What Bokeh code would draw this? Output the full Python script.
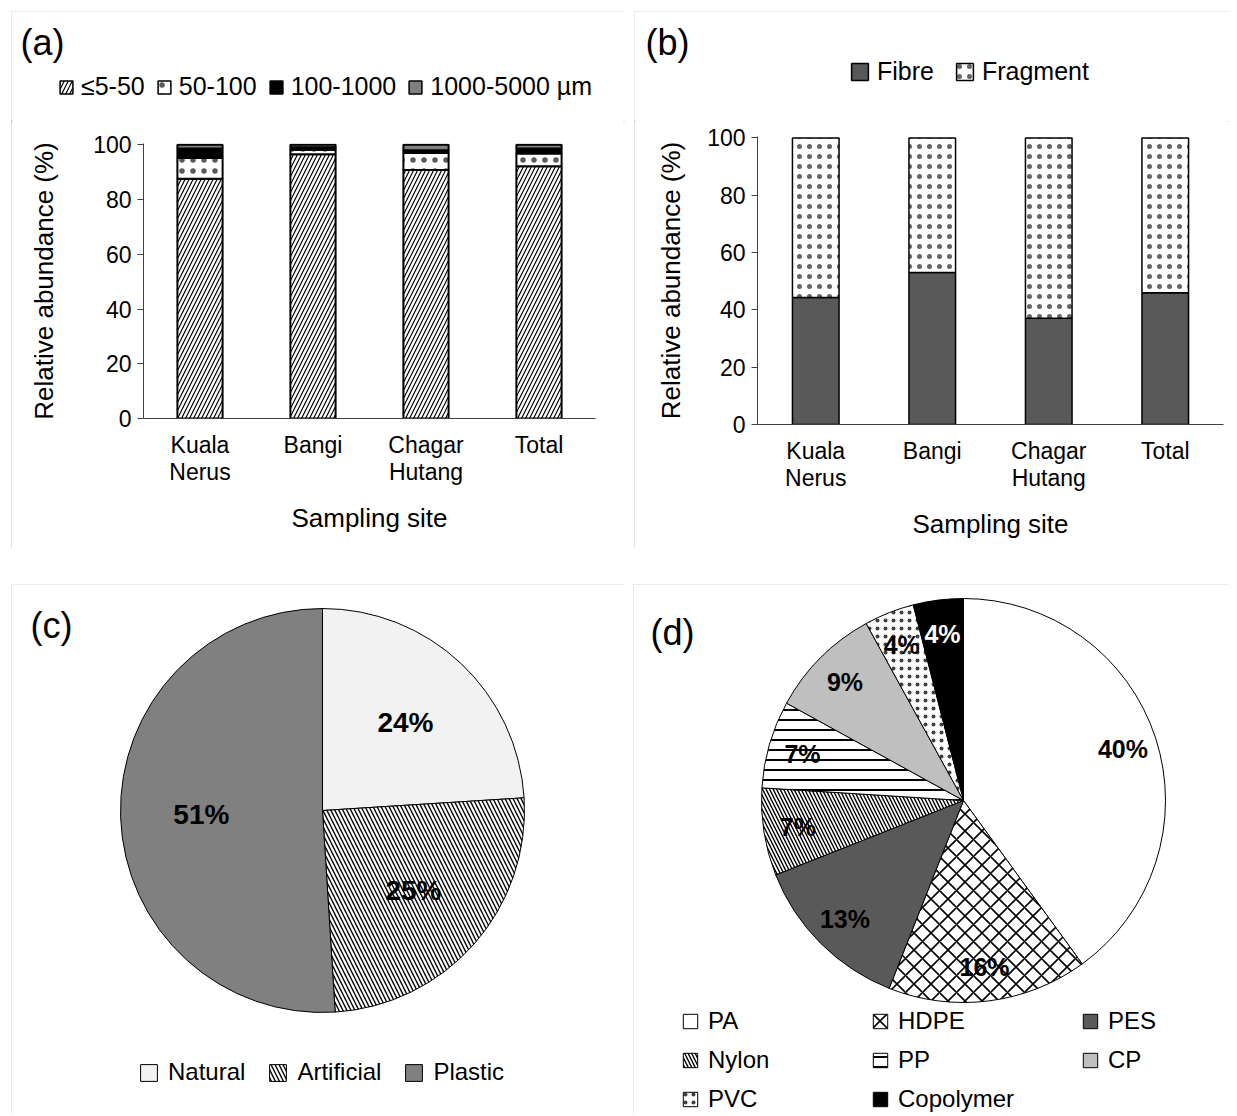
import numpy as np
from bokeh.plotting import figure
from bokeh.models import (ColumnDataSource, FactorRange, Range1d, Legend, LegendItem,
                          Label, FixedTicker)
from bokeh.layouts import row, column
from bokeh.embed import file_html
from bokeh.resources import INLINE
from bokeh.core.properties import value

FONT = "Liberation Sans"
BORDER = "#d9d9d9"
AXC = "#404040"

# ---------------- data ----------------
sites = ["Kuala\nNerus", "Bangi", "Chagar\nHutang", "Total"]

size_classes = ["≤5-50", "50-100", "100-1000", "1000-5000 µm"]
size_5_50 = [87.6, 96.6, 90.8, 92.2]
size_50_100 = [7.6, 1.6, 6.2, 4.6]
size_100_1000 = [3.5, 0.9, 1.0, 1.9]
size_1000_5000 = [1.3, 0.9, 2.0, 1.3]

shape_classes = ["Fibre", "Fragment"]
fibre = [44.3, 53.0, 37.1, 46.0]
fragment = [55.7, 47.0, 62.9, 54.0]

origin_labels = ["Natural", "Artificial", "Plastic"]
origin_pct = [24, 25, 51]

polymer_labels = ["PA", "HDPE", "PES", "Nylon", "PP", "CP", "PVC", "Copolymer"]
polymer_pct = [40, 16, 13, 7, 7, 9, 4, 4]

y_ticks = [0, 20, 40, 60, 80, 100]

# styles
size_fill = ["white", "white", "black", "#808080"]
size_hatch = ["/", ".", None, None]
size_hscale = [8, 11, 6, 6]
size_hweight = [1.2, 1.0, 1, 1]
size_halpha = [1.0, 0.65, 1.0, 1.0]
shape_fill = ["#595959", "white"]
shape_hatch = [None, "."]
shape_hscale = [6, 10]
shape_hweight = [1, 1.0]
shape_halpha = [1.0, 0.6]

BOX = {"outline": f"2px solid {BORDER}", "outline-offset": "-2px"}
HEAD_H = 110


def style_legend(leg, size):
    leg.border_line_color = None
    leg.background_fill_alpha = 0
    leg.padding = 0
    leg.margin = 0
    leg.label_text_font = FONT
    leg.label_text_font_size = size
    leg.label_text_color = "black"


def blank_fig(w, h):
    p = figure(width=w, height=h, x_range=Range1d(0, w), y_range=Range1d(0, h),
               output_backend="svg", toolbar_location=None, title=None,
               x_axis_type=None, y_axis_type=None, min_border=0)
    p.grid.grid_line_color = None
    p.outline_line_color = None
    p.frame_align = False
    return p


def panel_letter(p, x, y, txt):
    p.add_layout(Label(x=x, y=y, text=txt, text_font=FONT, text_font_size="36px",
                       text_baseline="middle", text_color="black"))


def bar_fig(w, h, ml, mr, mt, mb, ylab_standoff):
    p = figure(x_range=FactorRange(factors=sites), y_range=Range1d(0, 100.5),
               width=w, height=h, output_backend="svg", toolbar_location=None,
               title=None, min_border_left=ml, min_border_right=mr,
               min_border_top=mt, min_border_bottom=mb)
    p.frame_align = False
    p.outline_line_color = None
    p.grid.grid_line_color = None
    p.yaxis.ticker = FixedTicker(ticks=y_ticks)
    p.yaxis.minor_tick_line_color = None
    p.yaxis.major_tick_out = 6
    p.yaxis.major_tick_in = 0
    p.axis.axis_line_color = AXC
    p.axis.major_tick_line_color = AXC
    p.xaxis.major_tick_line_color = None
    p.axis.major_label_text_font = FONT
    p.axis.major_label_text_font_size = "23px"
    p.axis.major_label_text_color = "black"
    p.xaxis.major_label_text_line_height = 1.05
    p.axis.axis_label_text_font = FONT
    p.axis.axis_label_text_font_size = "26px"
    p.axis.axis_label_text_font_style = "normal"
    p.axis.axis_label_text_color = "black"
    p.yaxis.axis_label = "Relative abundance (%)"
    p.xaxis.axis_label = "Sampling site"
    p.yaxis.major_label_standoff = 6
    p.xaxis.major_label_standoff = 7
    p.xaxis.axis_label_standoff = 15
    p.yaxis.axis_label_standoff = ylab_standoff
    return p


def header(w, labels, fills, hatches, hscales, hweights, halphas, lw, loc, glyph, standoff,
           spacing, letter, letter_x):
    h = blank_fig(w, HEAD_H)
    # legend-only proxies, placed outside the visible range
    proxy = ColumnDataSource(dict(x=[-1000.0], top=[0.0]))
    rs = []
    for fc, hp, hs, hw, ha_ in zip(fills, hatches, hscales, hweights, halphas):
        rs.append(h.vbar(x="x", top="top", width=1, source=proxy, fill_color=fc,
                         hatch_pattern=hp, hatch_color="black", hatch_scale=hs,
                         hatch_weight=hw, hatch_alpha=ha_, line_color="black",
                         line_width=lw))
    leg = Legend(items=[LegendItem(label=lab, renderers=[r]) for lab, r in zip(labels, rs)],
                 orientation="horizontal", location=loc, glyph_width=glyph,
                 glyph_height=glyph, label_standoff=standoff, spacing=spacing)
    style_legend(leg, "25px")
    h.add_layout(leg)
    panel_letter(h, letter_x, HEAD_H - 31, letter)
    return h


# ---------------- (a) ----------------
W_A, H_TOP = 614, 537
ha = header(W_A, size_classes, size_fill, size_hatch, size_hscale, size_hweight, size_halpha,
            1.5, (47, 20), 16, 7, 11, "(a)", 9)
pa = bar_fig(W_A, H_TOP - HEAD_H, 132, 30, 132 - HEAD_H, 130, 31)
src_a = ColumnDataSource(dict(site=sites, s1=size_5_50, s2=size_50_100,
                              s3=size_100_1000, s4=size_1000_5000))
pa.vbar_stack(["s1", "s2", "s3", "s4"], x="site", width=0.4, source=src_a,
              fill_color=size_fill, hatch_pattern=size_hatch, hatch_color="black",
              hatch_scale=size_hscale, hatch_weight=size_hweight, hatch_alpha=size_halpha,
              line_color="black", line_width=2)
col_a = column(ha, pa, spacing=0, styles=BOX)

# ---------------- (b) ----------------
W_B = 595
hb = header(W_B, shape_classes, shape_fill, shape_hatch, shape_hscale, shape_hweight,
            shape_halpha, 1.5, (215, 35), 21, 7, 20, "(b)", 11)
pb = bar_fig(W_B, H_TOP - HEAD_H, 123, 6, 125 - HEAD_H, 124, 18)
src_b = ColumnDataSource(dict(site=sites, fibre=fibre, fragment=fragment))
pb.vbar_stack(["fibre", "fragment"], x="site", width=0.4, source=src_b,
              fill_color=shape_fill, hatch_pattern=shape_hatch, hatch_color="black",
              hatch_scale=shape_hscale, hatch_weight=shape_hweight, hatch_alpha=shape_halpha,
              line_color="black", line_width=1.5)
col_b = column(hb, pb, spacing=0, styles=BOX)


# ---------------- pies ----------------
def pie_angles(vals):
    vals = np.asarray(vals, dtype=float)
    cum = np.concatenate([[0.0], np.cumsum(vals)]) / vals.sum()
    start = np.pi / 2 - 2 * np.pi * cum[:-1]
    end = np.pi / 2 - 2 * np.pi * cum[1:]
    return start, end, (start + end) / 2


H_BOT = 531

# (c)
pc = blank_fig(614, H_BOT)
pc.styles = BOX
cx_c, cy_c, R_c = 311, H_BOT - 226, 202
st, en, mid = pie_angles(origin_pct)
src_c = ColumnDataSource(dict(
    start=st, end=en, label=origin_labels,
    color=["#f2f2f2", "white", "#808080"],
    hatch=[" ", "\\", " "],
    lx=cx_c + 0.6 * R_c * np.cos(mid), ly=cy_c + 0.6 * R_c * np.sin(mid),
    txt=[f"{v}%" for v in origin_pct]))
rc = pc.wedge(x=cx_c, y=cy_c, radius=R_c, start_angle="start", end_angle="end",
              direction="clock", source=src_c, fill_color="color",
              hatch_pattern="hatch", hatch_color="black", hatch_scale=8, hatch_weight=1.4,
              line_color="black", line_width=1)
pc.text(x="lx", y="ly", text="txt", source=src_c, text_align="center",
        text_baseline="middle", text_font=value(FONT), text_font_style="bold",
        text_font_size=value("28px"), text_color="black")
leg_c = Legend(items=[LegendItem(label=lab, renderers=[rc], index=i)
                      for i, lab in enumerate(origin_labels)],
               orientation="horizontal", location=(127, H_BOT - 502),
               glyph_width=21, glyph_height=21, label_standoff=9, spacing=22)
style_legend(leg_c, "24px")
pc.add_layout(leg_c)
panel_letter(pc, 19, H_BOT - 41, "(c)")

# (d)
pd_ = blank_fig(596, H_BOT)
pd_.styles = BOX
cx_d, cy_d, R_d = 330, H_BOT - 216, 202
st, en, mid = pie_angles(polymer_pct)
src_d = ColumnDataSource(dict(
    start=st, end=en, label=polymer_labels,
    color=["white", "white", "#595959", "white", "white", "#bfbfbf", "white", "black"],
    hatch=[" ", "x", " ", "\\", "-", " ", ".", " "],
    hs=[8, 17, 8, 7, 10, 8, 8, 8],
    hw=[1, 1.6, 1, 1.4, 2, 1, 1.0, 1],
    ha=[1, 1, 1, 1, 1, 1, 0.75, 1],
    lx=cx_d + 0.83 * R_d * np.cos(mid), ly=cy_d + 0.83 * R_d * np.sin(mid),
    txt=[f"{v}%" for v in polymer_pct],
    tc=["black"] * 7 + ["white"]))
rd = pd_.wedge(x=cx_d, y=cy_d, radius=R_d, start_angle="start", end_angle="end",
               direction="clock", source=src_d, fill_color="color",
               hatch_pattern="hatch", hatch_color="black", hatch_scale="hs",
               hatch_weight="hw", hatch_alpha="ha", line_color="black", line_width=1)
pd_.text(x="lx", y="ly", text="txt", source=src_d, text_align="center",
         text_baseline="middle", text_font=value(FONT), text_font_style="bold",
         text_font_size=value("25px"), text_color="tc")
cols = [[0, 3, 6], [1, 4, 7], [2, 5]]
col_x = [48, 238, 448]
for idxs, x0 in zip(cols, col_x):
    n = len(idxs)
    leg = Legend(items=[LegendItem(label=polymer_labels[i], renderers=[rd], index=i) for i in idxs],
                 orientation="vertical", location=(x0, 2 + (3 - n) * 39),
                 glyph_width=18, glyph_height=18, label_standoff=9, spacing=11)
    style_legend(leg, "24px")
    pd_.add_layout(leg)
panel_letter(pd_, 17, H_BOT - 48, "(d)")

layout = column(row(col_a, col_b, spacing=9), row(pc, pd_, spacing=8), spacing=36,
                margin=(11, 0, 0, 11))

open("out.html", "w").write(file_html(layout, INLINE))
